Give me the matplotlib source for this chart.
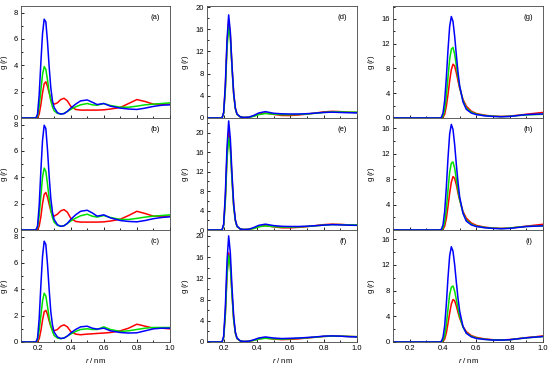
import matplotlib
matplotlib.use("Agg")
import matplotlib.pyplot as plt
from matplotlib.ticker import MultipleLocator

plt.rcParams['font.family'] = ['Liberation Sans', 'DejaVu Sans']
plt.rcParams['mathtext.fontset'] = 'custom'
plt.rcParams['mathtext.it'] = 'Liberation Sans:italic'
plt.rcParams['mathtext.rm'] = 'Liberation Sans'

# ---------------- data ----------------
r_col1 = [0.10, 0.19, 0.20, 0.21, 0.22, 0.23, 0.24, 0.25, 0.26, 0.27, 0.28, 0.29, 0.30,
          0.32, 0.34, 0.36, 0.38, 0.40, 0.43, 0.46, 0.50, 0.53, 0.56, 0.60, 0.64, 0.70,
          0.75, 0.80, 0.85, 0.90, 0.95, 1.00]
a_blue = [0, 0, 0.3, 1.8, 4.2, 6.4, 7.5, 7.3, 5.8, 3.9, 2.3, 1.3, 0.8, 0.4, 0.3, 0.33, 0.5,
          0.75, 1.05, 1.3, 1.37, 1.2, 1.02, 1.1, 0.9, 0.75, 0.68, 0.65, 0.75, 0.88, 0.97, 1.0]
a_green = [0, 0, 0.15, 0.9, 2.1, 3.3, 3.9, 3.7, 2.9, 2.0, 1.3, 0.85, 0.55, 0.35, 0.3, 0.35,
           0.5, 0.65, 0.85, 1.0, 1.1, 1.0, 0.97, 1.1, 0.95, 0.82, 0.82, 0.9, 1.0, 1.05, 1.1, 1.15]
a_red = [0, 0, 0.02, 0.3, 1.0, 1.9, 2.6, 2.75, 2.4, 1.9, 1.45, 1.15, 1.05, 1.15, 1.4, 1.5,
         1.3, 0.9, 0.65, 0.6, 0.6, 0.6, 0.6, 0.62, 0.68, 0.8, 1.1, 1.4, 1.25, 1.05, 1.05, 1.05]

b_blue = [0, 0, 0.3, 1.9, 4.5, 6.8, 7.95, 7.7, 6.1, 4.1, 2.4, 1.35, 0.8, 0.4, 0.28, 0.32,
          0.5, 0.8, 1.15, 1.42, 1.5, 1.3, 1.05, 1.15, 0.92, 0.72, 0.65, 0.62, 0.72, 0.86, 0.95, 1.0]
b_green = [0, 0, 0.2, 1.1, 2.6, 4.0, 4.7, 4.45, 3.5, 2.4, 1.5, 0.95, 0.6, 0.35, 0.28, 0.33,
           0.5, 0.68, 0.9, 1.08, 1.2, 1.05, 0.98, 1.1, 0.95, 0.8, 0.8, 0.88, 0.98, 1.05, 1.1, 1.15]
b_red = [0, 0, 0.02, 0.3, 1.0, 2.0, 2.7, 2.85, 2.5, 1.95, 1.45, 1.15, 1.05, 1.2, 1.45, 1.55,
         1.35, 0.9, 0.65, 0.6, 0.6, 0.6, 0.6, 0.62, 0.68, 0.82, 1.1, 1.42, 1.25, 1.05, 1.05, 1.05]

c_blue = [0, 0, 0.3, 1.8, 4.3, 6.5, 7.65, 7.4, 5.9, 4.0, 2.3, 1.3, 0.75, 0.38, 0.27, 0.3,
          0.45, 0.68, 0.95, 1.15, 1.2, 1.05, 0.98, 1.05, 0.85, 0.72, 0.68, 0.7, 0.85, 1.0, 1.05, 1.05]
c_green = [0, 0, 0.15, 0.9, 2.0, 3.1, 3.7, 3.5, 2.7, 1.85, 1.2, 0.8, 0.5, 0.3, 0.25, 0.3,
           0.45, 0.6, 0.8, 0.95, 1.0, 0.95, 0.95, 1.15, 0.95, 0.8, 0.85, 0.95, 1.05, 1.1, 1.1, 1.1]
c_red = [0, 0, 0.02, 0.25, 0.85, 1.65, 2.3, 2.4, 2.1, 1.6, 1.2, 0.95, 0.85, 0.95, 1.2, 1.3,
         1.15, 0.8, 0.6, 0.55, 0.6, 0.62, 0.65, 0.68, 0.72, 0.85, 1.05, 1.35, 1.2, 1.05, 1.05, 1.0]

r_col2 = [0.10, 0.19, 0.20, 0.21, 0.22, 0.23, 0.24, 0.25, 0.26, 0.27, 0.28, 0.30, 0.32,
          0.35, 0.38, 0.41, 0.45, 0.50, 0.55, 0.60, 0.65, 0.70, 0.75, 0.80, 0.85, 0.90, 0.95, 1.00]
d_blue = [0, 0, 1.0, 6.0, 14.0, 18.6, 15.5, 9.5, 4.5, 1.8, 0.7, 0.2, 0.1, 0.15, 0.45, 0.9,
          1.15, 0.85, 0.75, 0.72, 0.72, 0.78, 0.88, 1.0, 1.05, 1.0, 0.95, 0.92]
d_green = [0, 0, 0.8, 5.0, 12.5, 16.4, 14.5, 9.0, 4.3, 1.7, 0.65, 0.2, 0.1, 0.12, 0.3, 0.6,
           0.8, 0.7, 0.6, 0.6, 0.65, 0.72, 0.85, 1.0, 1.1, 1.1, 1.05, 1.05]
d_red = [0, 0, 0.9, 5.5, 13.3, 17.6, 15.0, 9.2, 4.4, 1.75, 0.7, 0.2, 0.1, 0.12, 0.35, 0.7,
         0.9, 0.65, 0.45, 0.45, 0.55, 0.7, 0.9, 1.1, 1.2, 1.15, 1.05, 1.0]

e_blue = [0, 0, 1.2, 7.3, 17.0, 22.4, 18.8, 11.5, 5.4, 2.1, 0.8, 0.2, 0.1, 0.15, 0.5, 0.95,
          1.2, 0.9, 0.75, 0.72, 0.72, 0.78, 0.88, 1.0, 1.1, 1.05, 1.0, 0.95]
e_green = [0, 0, 0.9, 5.8, 14.4, 19.0, 16.5, 10.2, 4.8, 1.9, 0.7, 0.2, 0.1, 0.12, 0.3, 0.65,
           0.85, 0.7, 0.6, 0.6, 0.65, 0.72, 0.85, 1.0, 1.1, 1.1, 1.05, 1.05]
e_red = [0, 0, 1.0, 6.4, 15.3, 20.2, 17.2, 10.6, 5.0, 2.0, 0.75, 0.2, 0.1, 0.12, 0.35, 0.7,
         0.9, 0.65, 0.45, 0.45, 0.55, 0.7, 0.9, 1.1, 1.2, 1.15, 1.05, 1.0]

f_blue = [0, 0, 1.1, 6.5, 15.2, 20.0, 16.8, 10.3, 4.9, 1.9, 0.75, 0.2, 0.1, 0.15, 0.4, 0.75,
          0.95, 0.75, 0.65, 0.7, 0.75, 0.85, 0.95, 1.1, 1.15, 1.1, 1.0, 0.95]
f_green = [0, 0, 0.8, 5.0, 12.4, 16.3, 14.3, 8.9, 4.2, 1.7, 0.65, 0.2, 0.1, 0.12, 0.3, 0.55,
           0.7, 0.6, 0.55, 0.6, 0.7, 0.8, 0.9, 1.05, 1.1, 1.1, 1.05, 1.0]
f_red = [0, 0, 0.85, 5.3, 12.8, 16.8, 14.6, 9.0, 4.3, 1.7, 0.65, 0.2, 0.1, 0.12, 0.32, 0.6,
         0.75, 0.55, 0.45, 0.5, 0.6, 0.75, 0.9, 1.05, 1.12, 1.1, 1.05, 1.0]

r_col3 = [0.10, 0.38, 0.39, 0.40, 0.41, 0.42, 0.43, 0.44, 0.45, 0.46, 0.47, 0.48, 0.49,
          0.50, 0.52, 0.54, 0.57, 0.60, 0.65, 0.70, 0.75, 0.80, 0.85, 0.90, 0.95, 1.00]
g_blue = [0, 0, 0.1, 0.8, 2.8, 6.5, 11.0, 14.8, 16.4, 15.6, 13.2, 10.2, 7.4, 5.2, 2.6, 1.4,
          0.8, 0.55, 0.35, 0.25, 0.2, 0.25, 0.4, 0.55, 0.6, 0.65]
g_green = [0, 0, 0.02, 0.3, 1.3, 3.5, 6.6, 9.5, 11.1, 11.4, 10.3, 8.5, 6.6, 5.0, 2.8, 1.6,
           0.95, 0.62, 0.4, 0.28, 0.22, 0.27, 0.4, 0.5, 0.55, 0.6]
g_red = [0, 0, 0, 0.1, 0.6, 1.9, 3.8, 6.0, 7.8, 8.7, 8.4, 7.3, 6.0, 4.8, 3.0, 1.9, 1.1, 0.72,
         0.45, 0.3, 0.25, 0.3, 0.45, 0.6, 0.75, 0.9]

h_blue = [0, 0, 0.1, 0.8, 2.9, 6.7, 11.3, 15.1, 16.6, 15.8, 13.4, 10.3, 7.5, 5.2, 2.6, 1.4,
          0.8, 0.55, 0.35, 0.25, 0.2, 0.25, 0.4, 0.55, 0.6, 0.65]
h_green = [0, 0, 0.02, 0.3, 1.25, 3.3, 6.3, 9.1, 10.5, 10.7, 9.7, 8.0, 6.3, 4.8, 2.7, 1.55,
           0.92, 0.6, 0.4, 0.28, 0.22, 0.3, 0.45, 0.55, 0.6, 0.65]
h_red = [0, 0, 0, 0.1, 0.6, 1.8, 3.7, 5.8, 7.5, 8.4, 8.1, 7.1, 5.8, 4.7, 2.9, 1.85, 1.1, 0.72,
         0.45, 0.3, 0.25, 0.3, 0.45, 0.6, 0.75, 0.9]

i_blue = [0, 0, 0.1, 0.7, 2.5, 5.9, 10.0, 13.4, 14.8, 14.1, 12.0, 9.3, 6.8, 4.8, 2.4, 1.35,
          0.8, 0.55, 0.4, 0.3, 0.3, 0.35, 0.5, 0.65, 0.75, 0.85]
i_green = [0, 0, 0.02, 0.25, 1.0, 2.7, 5.1, 7.4, 8.5, 8.7, 7.9, 6.6, 5.2, 4.0, 2.3, 1.4, 0.9,
           0.62, 0.42, 0.32, 0.3, 0.35, 0.5, 0.65, 0.75, 0.85]
i_red = [0, 0, 0, 0.08, 0.45, 1.4, 2.9, 4.5, 5.9, 6.6, 6.4, 5.6, 4.6, 3.7, 2.4, 1.6, 1.0, 0.72,
         0.48, 0.35, 0.32, 0.38, 0.52, 0.68, 0.8, 0.95]

panel_labels = ['(a)', '(b)', '(c)', '(d)', '(e)', '(f)', '(g)', '(h)', '(i)']
x_ticks = [0.2, 0.4, 0.6, 0.8, 1.0]
x_tick_labels = ['0.2', '0.4', '0.6', '0.8', '1.0']

# ---------------- layout ----------------
fig = plt.figure(figsize=(5.5, 3.67), dpi=100)
W, H = 550.0, 367.0
col_left = [21, 207, 393]
col_right = [170, 357, 543]
ylabel_x = [-0.074, -0.107, -0.107]
row_top = [6, 118, 230]
row_h = 112

cols = [
    (r_col1, [(a_red, a_green, a_blue), (b_red, b_green, b_blue), (c_red, c_green, c_blue)],
     [8.5, 8.5, 8.5], 2, 1),
    (r_col2, [(d_red, d_green, d_blue), (e_red, e_green, e_blue), (f_red, f_green, f_blue)],
     [20.2, 23.0, 21.1], 4, 2),
    (r_col3, [(g_red, g_green, g_blue), (h_red, h_green, h_blue), (i_red, i_green, i_blue)],
     [18.1, 17.6, 17.4], 4, 2),
]

colors = ['#ff0000', '#00e000', '#0000ff']
fs = 5.5
k = 0
for ci, (rr, panels, ytops, ymaj, ymin) in enumerate(cols):
    for ri, series in enumerate(panels):
        left = col_left[ci] / W
        width = (col_right[ci] - col_left[ci]) / W
        bottom = 1 - (row_top[ri] + row_h) / H
        ax = fig.add_axes([left, bottom, width, row_h / H])
        for ys, c in zip(series, colors):
            ax.plot(rr, ys, color=c, lw=1.1)
        ax.set_xlim(0.1, 1.0)
        ax.set_ylim(0, ytops[ri])
        ax.set_xticks(x_ticks)
        ax.xaxis.set_minor_locator(MultipleLocator(0.1))
        ax.yaxis.set_major_locator(MultipleLocator(ymaj))
        ax.yaxis.set_minor_locator(MultipleLocator(ymin))
        ax.tick_params(which='both', direction='in', labelsize=fs, pad=2,
                       width=0.6)
        ax.tick_params(which='major', length=2.5)
        ax.tick_params(which='minor', length=1.5)
        for s in ax.spines.values():
            s.set_linewidth(0.6)
            s.set_color('#444444')
        if ri < 2:
            ax.set_xticklabels([])
        else:
            ax.set_xticklabels(x_tick_labels)
            ax.set_xlabel(r'$\it{r}$ / nm', fontsize=fs, labelpad=3)
        ax.set_ylabel(r'g ($\it{r}$)', fontsize=fs)
        ax.yaxis.set_label_coords(ylabel_x[ci], 0.5)
        ax.text(0.93, 0.9, panel_labels[k], transform=ax.transAxes,
                ha='right', va='center', fontsize=fs)
        k += 1

fig.savefig('out.png', dpi=100)
